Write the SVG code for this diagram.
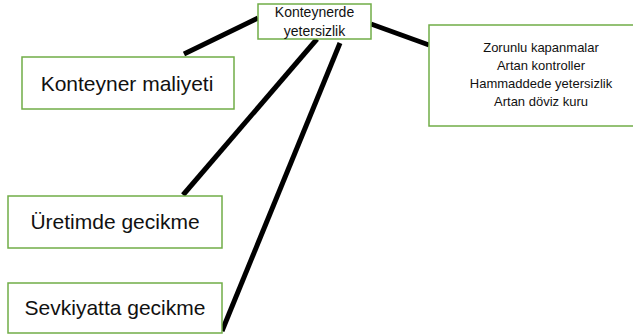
<svg xmlns="http://www.w3.org/2000/svg" width="633" height="336" viewBox="0 0 633 336">
<style>
.box{fill:#fff;stroke:#70AD47;stroke-width:1.5}
.t{font-family:"Liberation Sans",Arial,sans-serif;fill:#111;text-anchor:middle}
.c{stroke:#000;stroke-width:5;fill:none}
</style>
<rect width="633" height="336" fill="#fff"/>
<g id="connectors">
<line class="c" x1="258" y1="18" x2="184" y2="54"/>
<line class="c" x1="371" y1="24" x2="429" y2="45"/>
<line class="c" x1="317" y1="39" x2="183" y2="195"/>
<line class="c" x1="340" y1="43" x2="222" y2="331"/>
</g>
<g id="n-top">
<rect class="box" x="258" y="4" width="113" height="35"/>
<text class="t" x="314.5" y="16.5" font-size="14">Konteynerde</text>
<text class="t" x="314.5" y="36" font-size="14">yetersizlik</text>
</g>
<g id="n-maliyet">
<rect class="box" x="22" y="57" width="212" height="52"/>
<text class="t" x="127" y="91" font-size="21">Konteyner maliyeti</text>
</g>
<g id="n-causes">
<rect class="box" x="429" y="25" width="224" height="101"/>
<text class="t" x="541" y="52" font-size="13">Zorunlu kapanmalar</text>
<text class="t" x="541" y="70" font-size="13">Artan kontroller</text>
<text class="t" x="541" y="88" font-size="13">Hammaddede yetersizlik</text>
<text class="t" x="541" y="106" font-size="13">Artan döviz kuru</text>
</g>
<g id="n-uretim">
<rect class="box" x="8" y="196" width="214" height="52"/>
<text class="t" x="115" y="229" font-size="21">Üretimde gecikme</text>
</g>
<g id="n-sevkiyat">
<rect class="box" x="8" y="283" width="214" height="50"/>
<text class="t" x="115" y="315" font-size="21">Sevkiyatta gecikme</text>
</g>
</svg>
